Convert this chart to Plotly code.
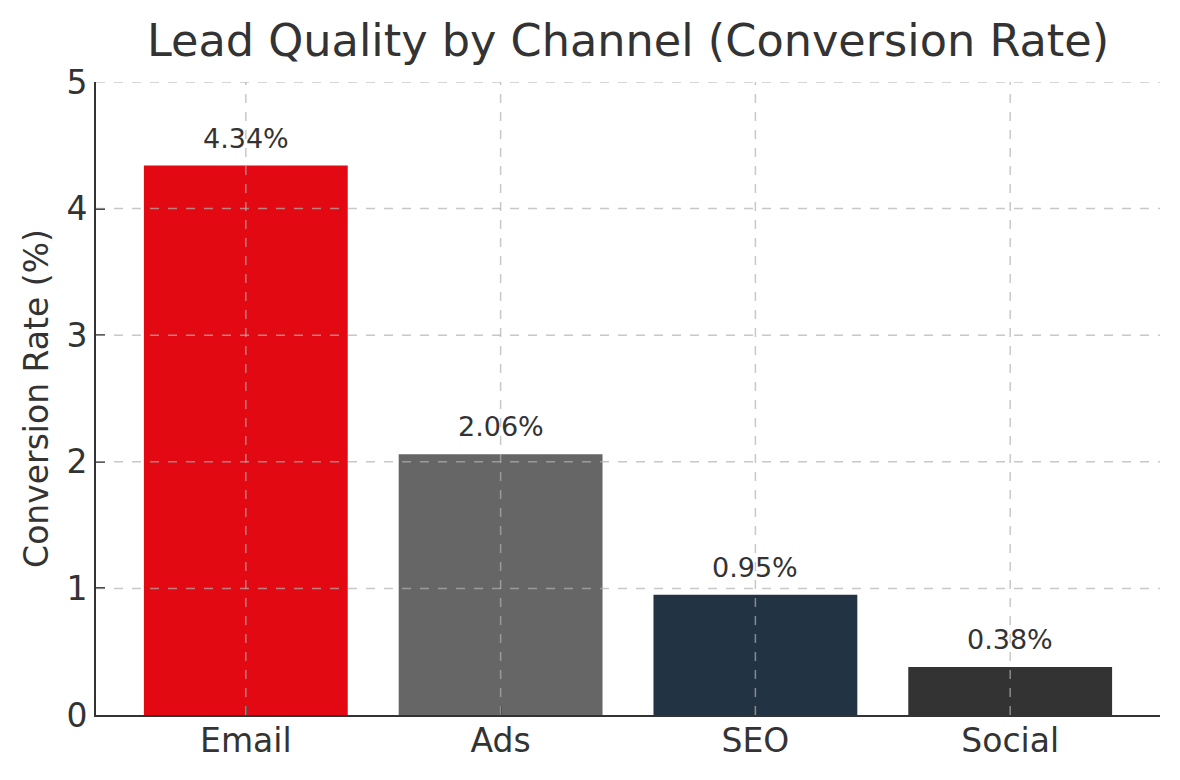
import plotly.graph_objects as go

# data
channels = ['Email', 'Ads', 'SEO', 'Social']
conv_rate = [4.34, 2.06, 0.95, 0.38]
bar_colors = ['#E30913', '#666666', '#223344', '#333333']
y_ticks = [0, 1, 2, 3, 4, 5]

font_main = 'DejaVu Sans'
txt_col = '#333333'
grid_col = 'rgba(176,176,176,0.7)'

fig = go.Figure()
fig.add_trace(go.Bar(x=channels, y=conv_rate, marker=dict(color=bar_colors, line=dict(width=0)),
                     width=0.8, showlegend=False, hoverinfo='x+y'))

# value labels above bars
for c, v in zip(channels, conv_rate):
    fig.add_annotation(x=c, y=v, text=f'{v:.2f}%', showarrow=False, yanchor='bottom', yshift=10,
                       font=dict(family=font_main, size=27, color=txt_col))

# matplotlib draws the grid on top of the bars here, so use shapes
shapes = []
for t in y_ticks[1:]:
    shapes.append(dict(type='line', xref='paper', yref='y', x0=0, x1=1, y0=t, y1=t, layer='above',
                       line=dict(color=grid_col, width=1.5, dash='dash')))
for c in channels:
    shapes.append(dict(type='line', xref='x', yref='paper', x0=c, x1=c, y0=0, y1=1, layer='above',
                       line=dict(color=grid_col, width=1.5, dash='dash')))

# page body adds an 8px margin, so the figure is a bit smaller than the window
fig.update_layout(
    width=1164, height=764,
    margin=dict(l=88, r=12, t=74, b=51),
    paper_bgcolor='white', plot_bgcolor='white',
    font=dict(family=font_main, color=txt_col),
    title=dict(text='Lead Quality by Channel (Conversion Rate)', x=0.5, xref='paper', y=0.958, yanchor='middle',
               font=dict(size=44.6, color=txt_col)),
    shapes=shapes,
    bargap=0.2,
)
fig.update_xaxes(range=[-0.588, 3.588], showgrid=False, showline=True, linecolor=txt_col, linewidth=2,
                 ticks='inside', ticklen=9, tickwidth=2, tickcolor=txt_col, ticklabelstandoff=-5,
                 tickfont=dict(size=33, color=txt_col), mirror=False, zeroline=False)
fig.update_yaxes(range=[0, 5], tickvals=y_ticks, showgrid=False, showline=True, linecolor=txt_col, linewidth=2,
                 ticks='inside', ticklen=9, tickwidth=2, tickcolor=txt_col,
                 tickfont=dict(size=33, color=txt_col), zeroline=False,
                 title=dict(text='Conversion Rate (%)', font=dict(size=33, color=txt_col), standoff=8))

fig.write_html('out.html')
